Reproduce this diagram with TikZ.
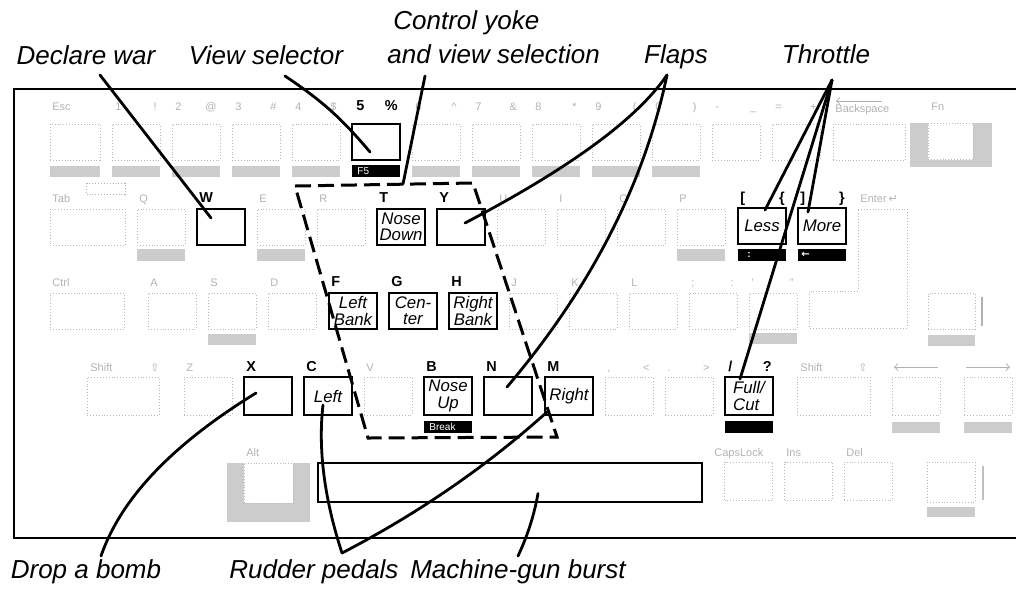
\documentclass[tikz,border=0pt]{standalone}
\usepackage{fontspec}
\setmainfont{Liberation Sans}
\newfontfamily\symfont{DejaVu Sans}
\usetikzlibrary{calc}
\newcommand\lblfont{\fontsize{13}{16}\selectfont\itshape}
\newcommand\keyit{\fontsize{8.4}{8.2}\selectfont\itshape}
\newcommand\klfont{\fontsize{7.2}{8}\selectfont\bfseries}
\newcommand\glfont{\fontsize{5.5}{6}\selectfont}
\newcommand\barfont{\fontsize{5}{6}\selectfont}
\begin{document}
\begin{tikzpicture}[x=0.5pt,y=-0.5pt,
  gk/.style={draw=gray!55, densely dotted, line width=0.45pt, minimum width=24pt, minimum height=18pt, inner sep=0pt},
  bk/.style={draw=black, line width=0.9pt, minimum width=24pt, minimum height=18pt, inner sep=0pt, font=\keyit, align=center},
  gl/.style={text=gray!60, font=\glfont, inner sep=0pt},
  bl/.style={font=\klfont, inner sep=0pt},
  gbar/.style={fill=gray!40, minimum width=24pt, minimum height=5.5pt, inner sep=0pt},
  kbar/.style={fill=black, minimum width=24pt, minimum height=6pt, inner sep=0pt},
  bartext/.style={text=white, font=\barfont, inner sep=0pt},
  lbl/.style={font=\lblfont, inner sep=0pt},
  lead/.style={line width=1.4pt, line cap=round},
  yoke/.style={line width=1.5pt, dash pattern=on 8pt off 3.5pt},
  kbframe/.style={line width=1pt}]
\useasboundingbox (0,0) rectangle (1016,591);

% keyboard frame
\draw[kbframe] (1016,89) -- (14,89) -- (14,538) -- (1016,538);

% ---------- Row 1 ----------
\node[gk, minimum width=25pt] (kEsc) at (75,142) {};
\node[gl, anchor=base west] (tEsc) at (52,110) {Esc};
\node[gbar, minimum width=25pt] (bEsc) at (75,171) {};
\foreach \i/\a/\b in {0/1/!,1/2/@,2/3/\#,3/4/\$,5/6/\textasciicircum,6/7/\&,7/8/*,8/9/(,9/0/),10/-/\_,11/=/+}{
  \node[gk] (r1k\i) at (136+60*\i,142) {};
  \node[gl,anchor=base west] (r1a\i) at (115+60*\i,110) {\a};
  \node[gl,anchor=base east] (r1b\i) at (157+60*\i,110) {\b};
}
\foreach \i in {0,1,2,3,5,6,7,8,9}{
  \node[gbar] (r1bar\i) at (136+60*\i,171) {};
}
\node[gk, minimum width=36pt] (kBsp) at (869,142) {};
\node[gl, anchor=base west] (tBsp) at (835,112) {Backspace};
\draw[gray!60, line width=0.5pt, <-] (836,101) -- (882,101);
\fill[gray!40] (910,123) rectangle (992,167);
\fill[white] (928,123) rectangle (973,160);
\node[gk, minimum width=22.5pt] (kFn) at (950.5,141.5) {};
\node[gl, anchor=base west] (tFn) at (931,110) {Fn};

\node[bk] (k5) at (376,142) {};
\node[bl, anchor=base west] (t5) at (356,110) {5};
\node[bl, anchor=base east] (t5b) at (398,110) {\%};
\node[kbar] (b5) at (376,171) {};
\node[bartext, anchor=west] (tF5) at (357,171) {F5};

% ---------- Row 2 ----------
\node[gk, minimum width=37.5pt] (kTab) at (87.5,227) {};
\node[gl, anchor=base west] (tTab) at (52,202) {Tab};
\draw[gray!60, densely dotted, line width=0.45pt] (86,183) rectangle (125,194);
\foreach \n/\x in {Q/161,E/281,R/341,U/521,I/581,O/641,P/701}{
  \node[gk] (k\n) at (\x,227) {};
  \node[gl,anchor=base west] (t\n) at (\x-22,202) {\n};
}
\foreach \x in {161,281,701}{
  \node[gbar, minimum height=6pt] (b2-\x) at (\x,255) {};
}
\draw[gray!55, densely dotted, line width=0.45pt] (858,209) -- (907,209) -- (907,328) -- (809,328) -- (809,291) -- (858,291) -- cycle;
\node[gl, anchor=base west] (tEnter) at (860,202) {Enter\,{\symfont ↵}};

\node[bk] (kW) at (221,227) {};
\node[bl, anchor=base west] (tW) at (199,202) {W};
\node[bk] (kT) at (401,227) {Nose\\Down};
\node[bl, anchor=base west] (tT) at (379,202) {T};
\node[bk] (kY) at (461,227) {};
\node[bl, anchor=base west] (tY) at (439,202) {Y};
\node[bk] (kLess) at (762,226) {Less};
\node[bl, anchor=base west] (tLb) at (740,202) {[};
\node[bl, anchor=base east] (tLc) at (785,202) {\{};
\node[bk] (kMore) at (822,226) {More};
\node[bl, anchor=base west] (tRb) at (800,202) {]};
\node[bl, anchor=base east] (tRc) at (845,202) {\}};
\node[kbar] (bLess) at (762,255) {};
\node[bartext, anchor=west] (tbLess) at (747,255) {\bfseries :};
\node[kbar] (bMore) at (822,255) {};
\node[bartext, anchor=west] (tbMore) at (801,254.5) {{\symfont\bfseries ←}};

% ---------- Row 3 ----------
\node[gk, minimum width=37pt] (kCtrl) at (87,311) {};
\node[gl, anchor=base west] (tCtrl) at (52,286) {Ctrl};
\foreach \n/\x in {A/172,S/232,D/292,J/533,K/593,L/653}{
  \node[gk] (k\n) at (\x,311) {};
  \node[gl,anchor=base west] (t\n) at (\x-22,286) {\n};
}
\node[gk] (kSemi) at (713,311) {};
\node[gl, anchor=base west] (tSemi) at (691,286) {;};
\node[gl, anchor=base east] (tColon) at (734,286) {:};
\node[gk] (kQuote) at (773,311) {};
\node[gl, anchor=base west] (tQuote) at (751,286) {'};
\node[gl, anchor=base east] (tDQuote) at (794,286) {"};
\node[gk, minimum width=23.5pt] (kHome) at (951.5,311) {};
\draw[gray!60, line width=0.6pt] (982,297) -- (982,326);
\node[gbar] (b3S) at (232,339) {};
\node[gbar] (b3Q) at (773,338) {};
\node[gbar, minimum width=23.5pt] (b3H) at (951.5,340) {};

\node[bk] (kF) at (353,311) {Left\\Bank};
\node[bl, anchor=base west] (tF) at (331,286) {F};
\node[bk] (kG) at (413,311) {Cen-\\ter};
\node[bl, anchor=base west] (tG) at (391,286) {G};
\node[bk] (kH) at (473,311) {Right\\Bank};
\node[bl, anchor=base west] (tH) at (451,286) {H};

% ---------- Row 4 ----------
\node[gk, minimum width=36pt, minimum height=19pt] (kShL) at (123,396) {};
\node[gl, anchor=base west] (tShL) at (90,371) {Shift};
\node[gl, anchor=base east] (tShLa) at (160,371) {{\symfont ⇧}};
\foreach \n/\x in {Z/208,V/388}{
  \node[gk, minimum height=19pt] (k\n) at (\x,396) {};
  \node[gl,anchor=base west] (t\n) at (\x-22,371) {\n};
}
\node[gk, minimum height=19pt] (kComma) at (629,396) {};
\node[gl, anchor=base west] (tComma) at (607,371) {,};
\node[gl, anchor=base east] (tLt) at (650,371) {<};
\node[gk, minimum height=19pt] (kDot) at (689,396) {};
\node[gl, anchor=base west] (tDot) at (667,371) {.};
\node[gl, anchor=base east] (tGt) at (710,371) {>};
\node[gk, minimum width=36.5pt, minimum height=19pt] (kShR) at (833.5,396) {};
\node[gl, anchor=base west] (tShR) at (800,371) {Shift};
\node[gl, anchor=base east] (tShRa) at (868,371) {{\symfont ⇧}};
\node[gk, minimum height=19pt] (kPgUp) at (916,396) {};
\node[gk, minimum height=19pt] (kPgDn) at (988,396) {};
\draw[gray!60, line width=0.5pt, <-] (894,367) -- (938,367);
\draw[gray!60, line width=0.5pt, ->] (966,367) -- (1010,367);
\node[gbar] (b4U) at (916,427) {};
\node[gbar] (b4D) at (988,427) {};

\node[bk, minimum height=19pt] (kX) at (268,396) {};
\node[bl, anchor=base west] (tX) at (246,371) {X};
\node[bk, minimum height=19pt] (kC) at (328,396) {Left};
\node[bl, anchor=base west] (tC) at (306,371) {C};
\node[bk, minimum height=19pt] (kB) at (448,396) {Nose\\Up};
\node[bl, anchor=base west] (tB) at (426,371) {B};
\node[bk, minimum height=19pt] (kN) at (508,396) {};
\node[bl, anchor=base west] (tN) at (486,371) {N};
\node[bk, minimum height=19pt] (kM) at (569,396) {Right};
\node[bl, anchor=base west] (tM) at (547,371) {M};
\node[bk, minimum height=19pt, align=left] (kFC) at (749,396) {Full/\\Cut};
\node[bl, anchor=base west] (tSl) at (728,371) {/};
\node[bl, anchor=base east] (tQm) at (772,371) {?};
\node[kbar] (bB) at (448,427) {};
\node[bartext, anchor=west] (tBrk) at (429,427) {Break};
\node[kbar] (bFC) at (749,427) {};

% ---------- Row 5 ----------
\fill[gray!40] (227,463) rectangle (310,522);
\fill[white] (244,463) rectangle (293,503);
\node[gk, minimum width=24.5pt, minimum height=20pt] (kAlt) at (268.5,483) {};
\node[gl, anchor=base west] (tAlt) at (246,456) {Alt};
\node[draw, line width=0.9pt, minimum width=192pt, minimum height=19.5pt, inner sep=0pt] (kSpace) at (510,482.5) {};
\node[gk, minimum height=19pt] (kCaps) at (748.5,481) {};
\node[gl, anchor=base west] (tCaps) at (714,456) {CapsLock};
\node[gk, minimum height=19pt] (kIns) at (808.5,481) {};
\node[gl, anchor=base west] (tIns) at (786,456) {Ins};
\node[gk, minimum height=19pt] (kDel) at (868,481) {};
\node[gl, anchor=base west] (tDel) at (846,456) {Del};
\node[gk, minimum height=20pt] (kEnd) at (951,482) {};
\node[gbar, minimum height=5pt] (b5E) at (951,512) {};
\draw[gray!50, line width=1.2pt] (983,466) -- (983,500);

% ---------- control yoke area ----------
\draw[yoke] (295,186) -- (473,183) -- (557,437) -- (368,438) -- cycle;
\coordinate (yokeTop) at (403,184);

% ---------- labels ----------
\node[lbl, anchor=base] (lDW) at (86,64) {Declare war};
\node[lbl, anchor=base] (lVS) at (266,64) {View selector};
\node[lbl, anchor=base west] (lCY1) at (393,29) {Control yoke};
\node[lbl, anchor=base west] (lCY2) at (387,63) {and view selection};
\node[lbl, anchor=base] (lFl) at (676,63) {Flaps};
\node[lbl, anchor=base] (lTh) at (826,63) {Throttle};
\node[lbl, anchor=base] (lDB) at (86,578) {Drop a bomb};
\node[lbl, anchor=base] (lRP) at (314,578) {Rudder pedals};
\node[lbl, anchor=base] (lMG) at (518,578) {Machine-gun burst};

% ---------- leaders ----------
\draw[lead] ($(lDW.base)+(14,11)$) -- ($(kW)+(-10,-9)$);
\draw[lead] ($(lVS.base)+(19,12)$) to[bend left=8] ($(k5)+(-6,10)$);
\draw[lead] ($(lCY2.base west)+(38,13)$) -- (yokeTop);
\draw[lead] ($(lFl.base)+(-9,12)$) .. controls (637,119) and (570,168) .. ($(kY)+(4,-4)$);
\draw[lead] ($(lFl.base)+(-9,12)$) .. controls (644,185) and (590,289) .. ($(kN)+(-1,-9)$);
\draw[lead] ($(lTh.base)+(6,17)$) -- ($(kLess)+(3,-16)$);
\draw[lead] ($(lTh.base)+(6,17)$) -- ($(kMore)+(-14,-14)$);
\draw[lead] ($(lTh.base)+(6,17)$) -- ($(kFC)+(-9,-17)$);
\draw[lead] ($(lDB.base)+(15,-22)$) .. controls (121,498) and (173,444) .. ($(kX)+(-12,-3)$);
\draw[lead] ($(lRP.base)+(28,-25)$) .. controls (324,498) and (318,448) .. ($(kC)+(-5,9)$);
\draw[lead] ($(lRP.base)+(28,-25)$) .. controls (419,513) and (487,466) .. ($(kM)+(-22,16)$);
\draw[lead] ($(lMG.base)+(0,-22)$) .. controls (527,537) and (534,516) .. ($(kSpace)+(28,11)$);
\end{tikzpicture}
\end{document}
